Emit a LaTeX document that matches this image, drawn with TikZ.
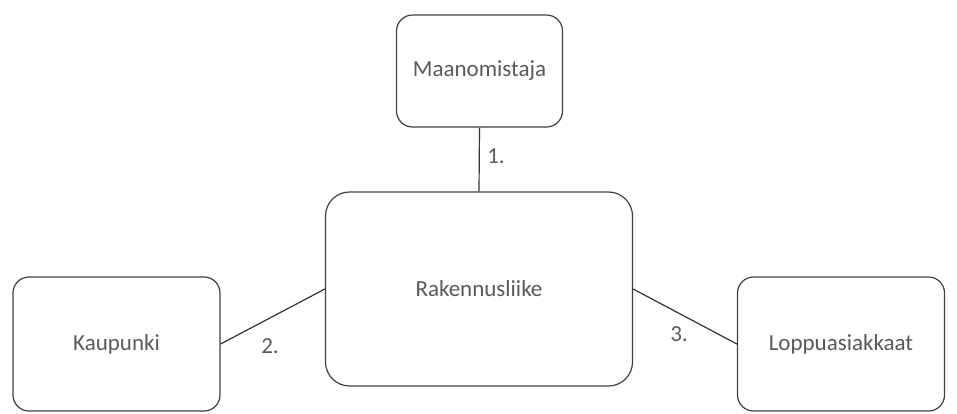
\documentclass[tikz,border=0pt]{standalone}
\usepackage{fontspec}
\setmainfont{Carlito}

\begin{document}
\begin{tikzpicture}[x=1pt,y=-1pt,line width=1.2pt,
  party/.style={shape=rectangle,draw=black!75,rounded corners=16pt,text=black!65,font=\fontsize{23}{26}\selectfont},
  partyL/.style={party,rounded corners=24pt},
  linkl/.style={draw=black!80},
  nr/.style={text=black!65,font=\fontsize{23}{26}\selectfont}]
\useasboundingbox (0,0) rectangle (957,413);

\node[party,minimum width=166pt,minimum height=112pt] (maa) at (479.5,71) {Maanomistaja};
\node[partyL,minimum width=307pt,minimum height=194pt] (rak) at (479,289) {Rakennusliike};
\node[party,minimum width=207pt,minimum height=134pt] (kau) at (116.5,344) {Kaupunki};
\node[party,minimum width=207pt,minimum height=134pt] (lop) at (841,344) {Loppuasiakkaat};

\draw[linkl] (maa.south) -- (rak.north);
\draw[linkl] (kau.east) -- (rak.west);
\draw[linkl] (rak.east) -- (lop.west);

\node[nr] (n1) at (496,156) {1.};
\node[nr] (n2) at (270,346) {2.};
\node[nr] (n3) at (679,334) {3.};
\end{tikzpicture}
\end{document}
